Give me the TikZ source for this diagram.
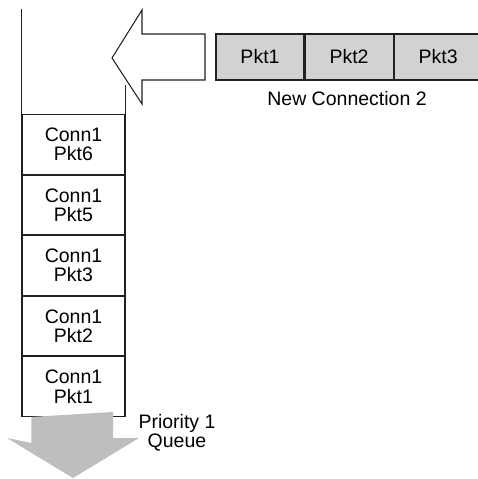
\documentclass[tikz,border=0pt]{standalone}
\usepackage{fontspec}
\setmainfont{Liberation Sans}
\usetikzlibrary{positioning}

\definecolor{pktgray}{HTML}{D1D2D4}
\definecolor{arrowgray}{HTML}{BCBEC0}
\definecolor{ink}{HTML}{231F20}

\begin{document}
\begin{tikzpicture}[x=0.02cm, y=-0.02cm,
    cell/.style = {draw=ink, line width=0.6pt, minimum width=2.06cm, minimum height=1.19cm,
                   inner sep=0pt, align=center, font={\fontsize{11.1}{11}\selectfont}},
    pktbox/.style = {draw=ink, line width=0.6pt, fill=pktgray, minimum width=1.76cm,
                     minimum height=0.92cm, inner sep=0pt, font={\fontsize{11.1}{11}\selectfont}},
    caption/.style = {align=center, inner sep=0pt, font={\fontsize{11.1}{11}\selectfont}}]
    \useasboundingbox (0,0) rectangle (477,479);

    % priority 1 queue
    \node[cell] (c6) at (73.5, 144.5) {Conn1\\Pkt6};
    \node[cell, below=0pt of c6] (c5) {Conn1\\Pkt5};
    \node[cell, below=0pt of c5] (c3) {Conn1\\Pkt3};
    \node[cell, below=0pt of c3] (c2) {Conn1\\Pkt2};
    \node[cell, below=0pt of c2] (c1) {Conn1\\Pkt1};
    \draw[ink, line width=0.6pt] (c6.north west) -- ++(0,-105);
    \draw[ink, line width=0.6pt] (c6.north east) -- ++(0,-29);

    % new connection
    \node[pktbox] (p1) at (260, 57) {Pkt1};
    \node[pktbox, right=0pt of p1] (p2) {Pkt2};
    \node[pktbox, right=0pt of p2] (p3) {Pkt3};
    \node[caption] (nc) at (347, 99) {New Connection 2};

    % arrow into the queue
    \draw[ink, line width=0.6pt, fill=white]
        (112,58) -- (142,10) -- (142,34) -- (205,34) -- (205,80) -- (142,80) -- (142,104) -- cycle;

    % arrow out of the queue
    \fill[arrowgray] (c1.south west) ++(10,0) -- ++(0,26) -- (7,438) -- (73,478)
        -- (139,438) -- (113,438) -- (113,412) -- cycle;
    \node[caption] (pq) at (177, 433) {Priority 1\\Queue};
\end{tikzpicture}
\end{document}
